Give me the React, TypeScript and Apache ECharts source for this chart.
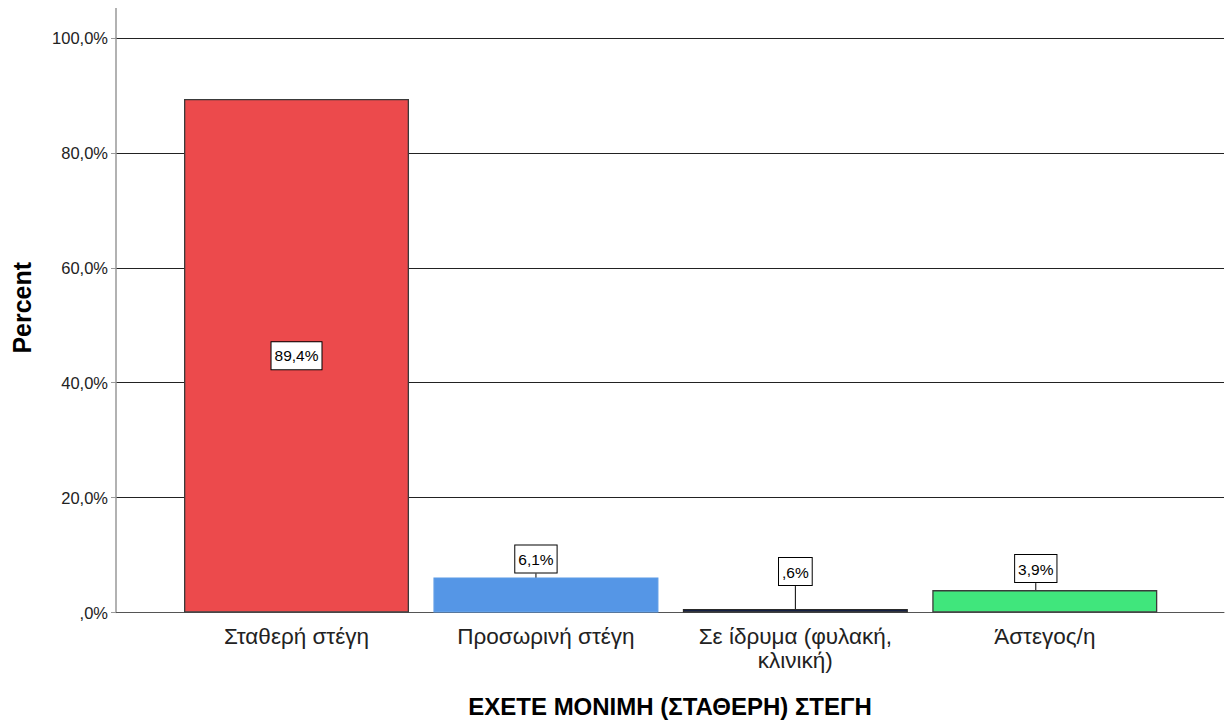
import React, { useEffect, useRef } from "react";
import * as echarts from "echarts";

const categories = ["Σταθερή στέγη", "Προσωρινή στέγη", "Σε ίδρυμα (φυλακή,\nκλινική)", "Άστεγος/η"];
const values = [89.4, 6.1, 0.6, 3.9];
const barColors = ["#EC4A4C", "#5596E6", "#0F1E4B", "#40E67C"];
const barBorders = ["#3a3a3a", "#5a9ae6", "#2a2a2a", "#3a3a3a"];
const valueLabels = ["89,4%", "6,1%", ",6%", "3,9%"];
const yTicks = [0, 20, 40, 60, 80, 100];

const FONT = "'Liberation Sans', Arial, sans-serif";

function fmtTick(v: number): string {
  if (v === 0) return ",0%";
  return v.toFixed(1).replace(".", ",") + "%";
}

export default function App() {
  const ref = useRef<HTMLDivElement>(null);
  useEffect(() => {
    if (!ref.current) return;
    const chart = echarts.init(ref.current, undefined, { renderer: "svg" });
    const labelShift = [
      { dx: 0, dy: 0 },
      { dx: -10, dy: -5 },
      { dx: 0, dy: -24 },
      { dx: -9, dy: -8 },
    ];
    chart.setOption({
      animation: false,
      backgroundColor: "#ffffff",
      grid: [
        { left: 116, right: 8, top: 38, bottom: 108.5, containLabel: false, outerBoundsMode: "none" },
        { left: 171.8, right: 1232 - 1169.5, top: 38, bottom: 108.5, containLabel: false, outerBoundsMode: "none" },
      ],
      xAxis: [
        {
          gridIndex: 0,
          type: "value",
          min: 0,
          max: 1,
          axisLine: { show: true, lineStyle: { color: "#555", width: 1 } },
          axisTick: { show: false },
          axisLabel: { show: false },
          splitLine: { show: false },
          name: "ΕΧΕΤΕ ΜΟΝΙΜΗ (ΣΤΑΘΕΡΗ) ΣΤΕΓΗ",
          nameLocation: "middle",
          nameGap: 81,
          nameTextStyle: { fontFamily: FONT, fontSize: 24, fontWeight: "bold", color: "#000", lineHeight: 26 },
        },
        {
          gridIndex: 1,
          type: "category",
          data: categories,
          axisLine: { show: false },
          axisTick: { show: false },
          axisLabel: {
            interval: 0,
            margin: 12,
            fontFamily: FONT,
            fontSize: 22.5,
            color: "#222",
            lineHeight: 24,
          },
        },
      ],
      yAxis: [
        {
          gridIndex: 0,
          type: "value",
          min: 0,
          max: 100,
          interval: 20,
          axisLine: { show: true, lineStyle: { color: "#999", width: 1.5 } },
          axisTick: { show: true, length: 5, lineStyle: { color: "#999" } },
          axisLabel: {
            formatter: (v: number) => (yTicks.includes(v) ? fmtTick(v) : ""),
            fontFamily: FONT,
            fontSize: 16.5,
            color: "#222",
            margin: 8,
          },
          splitLine: { show: true, lineStyle: { color: "#222", width: 1.2 } },
          name: "Percent",
          nameLocation: "middle",
          nameGap: 82,
          nameRotate: 90,
          nameTextStyle: {
            fontFamily: FONT,
            fontSize: 25,
            fontWeight: "bold",
            color: "#000",
            padding: [0, 0, 0, 35],
          },
        },
        {
          gridIndex: 1,
          type: "value",
          min: 0,
          max: 100,
          show: false,
          splitLine: { show: false },
        },
      ],
      series: [
        {
          type: "bar",
          xAxisIndex: 1,
          yAxisIndex: 1,
          barWidth: 225,
          data: values.map((v, i) => ({
            value: v,
            itemStyle: { color: barColors[i], borderColor: barBorders[i], borderWidth: 1.3 },
            label: { position: i === 0 ? "inside" : "top", distance: 0 },
            labelLine: { show: i !== 0 },
          })),
          label: {
            show: true,
            formatter: (p: any) => valueLabels[p.dataIndex],
            fontFamily: FONT,
            fontSize: 15.5,
            color: "#000",
            backgroundColor: "#fff",
            borderColor: "#000",
            borderWidth: 1,
            padding: [6, 3, 5, 3],
          },
          labelLine: { show: true, lineStyle: { color: "#000", width: 1 } },
          labelLayout: (p: any) => labelShift[p.dataIndex],
        },
      ],
      graphic: [
        {
          type: "line",
          shape: { x1: 116, y1: 8, x2: 116, y2: 38 },
          style: { stroke: "#999", lineWidth: 1.5 },
        },
      ],
    });
    return () => chart.dispose();
  }, []);
  return <div ref={ref} style={{ position: "fixed", left: 0, top: 0, width: 1232, height: 721 }} />;
}
